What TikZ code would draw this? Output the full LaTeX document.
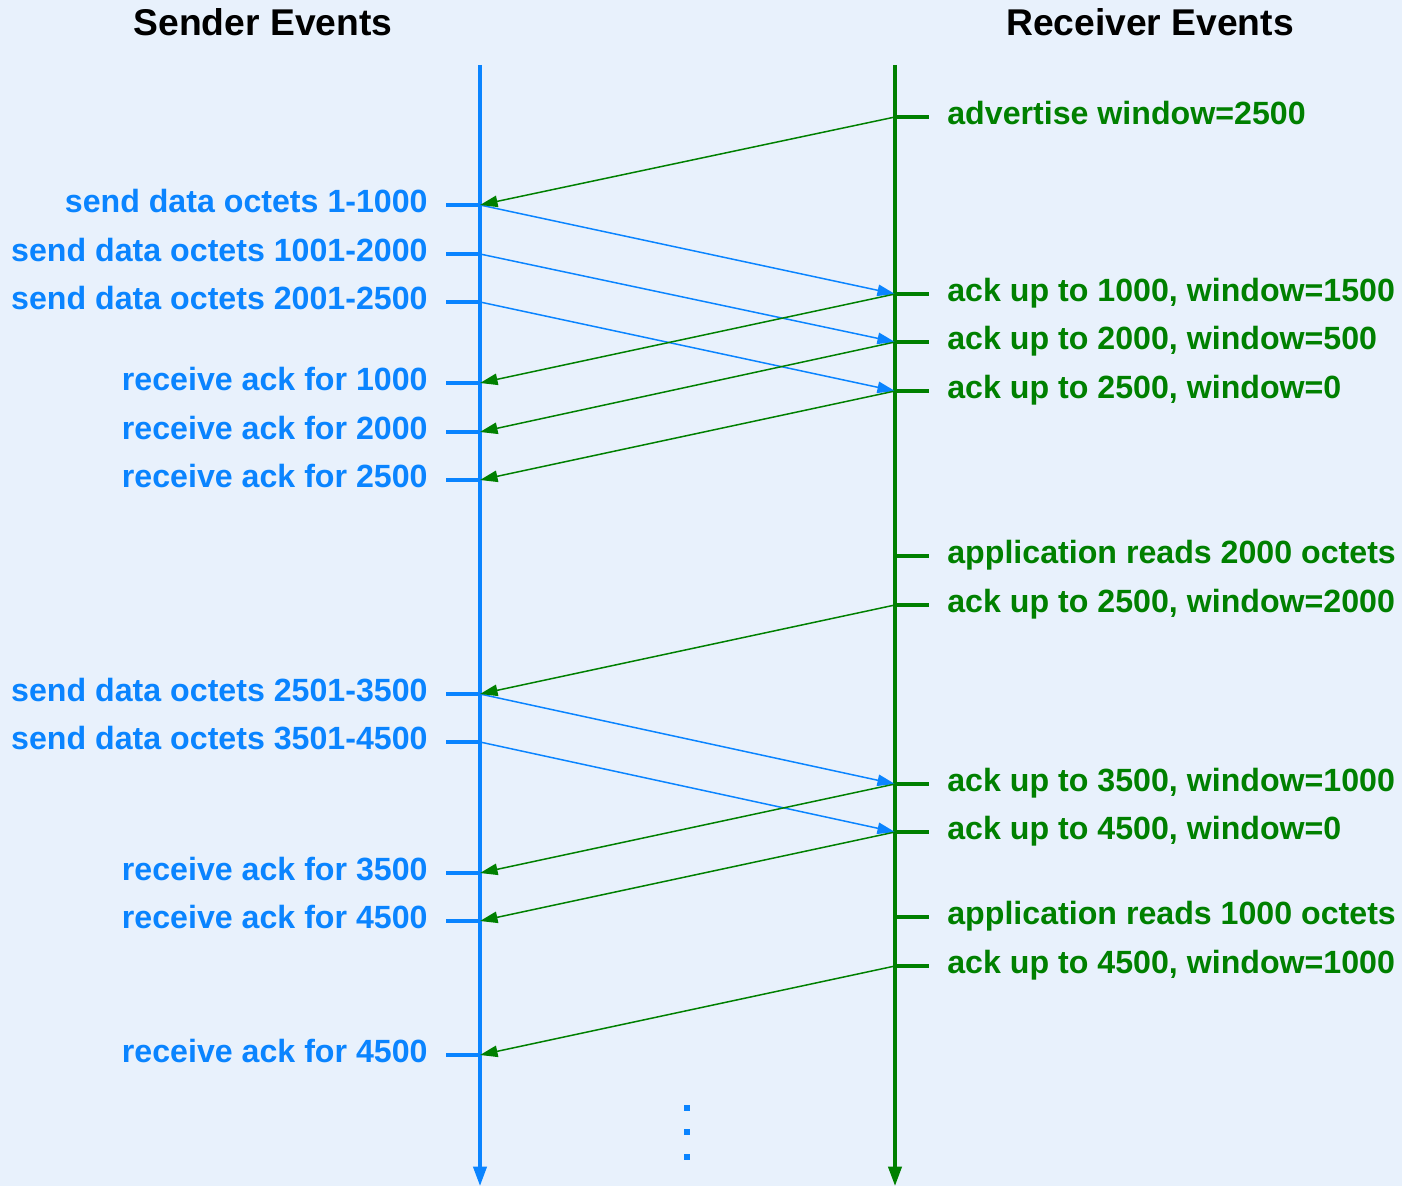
\documentclass[tikz,border=0pt]{standalone}
\usepackage{fontspec}
\setmainfont{Liberation Sans}
\usetikzlibrary{arrows.meta, positioning}
\definecolor{SendBlue}{RGB}{10,132,255}
\definecolor{RecvGreen}{RGB}{0,128,0}
\definecolor{PaleSky}{RGB}{232,241,252}

\begin{document}
\begin{tikzpicture}[
  x=0.02cm, y=-0.02cm,
  title/.style={
    font=\fontsize{21.2}{25}\selectfont\bfseries,
    inner sep=0pt,
    anchor=base
  },
  evlabel/.style={
    font=\fontsize{18.3}{22}\selectfont\bfseries,
    inner sep=0pt
  },
  slabel/.style={evlabel, text=SendBlue, anchor=base east},
  rlabel/.style={evlabel, text=RecvGreen, anchor=base west},
  timeline/.style={
    line width=1.9pt,
    -{Triangle[length=11pt, width=7.5pt]}
  },
  tickline/.style={line width=1.9pt},
  msg/.style={
    line width=0.85pt,
    -{Triangle[length=10pt, width=6.5pt]}
  },
  datamsg/.style={msg, color=SendBlue},
  ackmsg/.style={msg, color=RecvGreen}
]

% Background and frame
\fill[PaleSky] (0,0) rectangle (1402,1186);
\useasboundingbox (0,0) rectangle (1402,1186);

% Titles
\node[title] (sendtitle) at (263,36)  {Sender Events};
\node[title] (recvtitle) at (1150,36) {Receiver Events};

% Time lines
\coordinate (sendtop) at (480,65);
\coordinate (sendbot) at (480,1186);
\coordinate (recvtop) at (895,65);
\coordinate (recvbot) at (895,1186);
\draw[timeline, SendBlue]  (sendtop) -- (sendbot);
\draw[timeline, RecvGreen] (recvtop) -- (recvbot);

% Sender events
\coordinate (s1)  at (480,205);
\coordinate (s2)  at (480,254);
\coordinate (s3)  at (480,302);
\coordinate (s4)  at (480,383);
\coordinate (s5)  at (480,432);
\coordinate (s6)  at (480,480);
\coordinate (s7)  at (480,694);
\coordinate (s8)  at (480,742);
\coordinate (s9)  at (480,873);
\coordinate (s10) at (480,921);
\coordinate (s11) at (480,1055);

\node[slabel] (s1lab)  at (428,212)  {send data octets 1-1000};
\node[slabel] (s2lab)  at (428,261)  {send data octets 1001-2000};
\node[slabel] (s3lab)  at (428,309)  {send data octets 2001-2500};
\node[slabel] (s4lab)  at (428,390)  {receive ack for 1000};
\node[slabel] (s5lab)  at (428,439)  {receive ack for 2000};
\node[slabel] (s6lab)  at (428,487)  {receive ack for 2500};
\node[slabel] (s7lab)  at (428,701)  {send data octets 2501-3500};
\node[slabel] (s8lab)  at (428,749)  {send data octets 3501-4500};
\node[slabel] (s9lab)  at (428,880)  {receive ack for 3500};
\node[slabel] (s10lab) at (428,928)  {receive ack for 4500};
\node[slabel] (s11lab) at (428,1062) {receive ack for 4500};

\foreach \s in {s1,s2,s3,s4,s5,s6,s7,s8,s9,s10,s11}
  \draw[tickline, SendBlue] (\s) -- ++(-34,0);

% Receiver events
\coordinate (r1)  at (895,117);
\coordinate (r2)  at (895,294);
\coordinate (r3)  at (895,342);
\coordinate (r4)  at (895,391);
\coordinate (r5)  at (895,556);
\coordinate (r6)  at (895,605);
\coordinate (r7)  at (895,784);
\coordinate (r8)  at (895,832);
\coordinate (r9)  at (895,917);
\coordinate (r10) at (895,966);

\node[rlabel] (r1lab)  at (947,124) {advertise window=2500};
\node[rlabel] (r2lab)  at (947,301) {ack up to 1000, window=1500};
\node[rlabel] (r3lab)  at (947,349) {ack up to 2000, window=500};
\node[rlabel] (r4lab)  at (947,398) {ack up to 2500, window=0};
\node[rlabel] (r5lab)  at (947,563) {application reads 2000 octets};
\node[rlabel] (r6lab)  at (947,612) {ack up to 2500, window=2000};
\node[rlabel] (r7lab)  at (947,791) {ack up to 3500, window=1000};
\node[rlabel] (r8lab)  at (947,839) {ack up to 4500, window=0};
\node[rlabel] (r9lab)  at (947,924) {application reads 1000 octets};
\node[rlabel] (r10lab) at (947,973) {ack up to 4500, window=1000};

\foreach \r in {r1,r2,r3,r4,r5,r6,r7,r8,r9,r10}
  \draw[tickline, RecvGreen] (\r) -- ++(34,0);

% Data segments
\draw[datamsg] (s1) -- (r2);
\draw[datamsg] (s2) -- (r3);
\draw[datamsg] (s3) -- (r4);
\draw[datamsg] (s7) -- (r7);
\draw[datamsg] (s8) -- (r8);

% Acknowledgements
\draw[ackmsg] (r1)  -- (s1);
\draw[ackmsg] (r2)  -- (s4);
\draw[ackmsg] (r3)  -- (s5);
\draw[ackmsg] (r4)  -- (s6);
\draw[ackmsg] (r6)  -- (s7);
\draw[ackmsg] (r7)  -- (s9);
\draw[ackmsg] (r8)  -- (s10);
\draw[ackmsg] (r10) -- (s11);

% More to come
\foreach \y in {1108,1132,1157}
  \fill[SendBlue] (684,\y-3) rectangle ++(6,6);

\end{tikzpicture}
\end{document}
